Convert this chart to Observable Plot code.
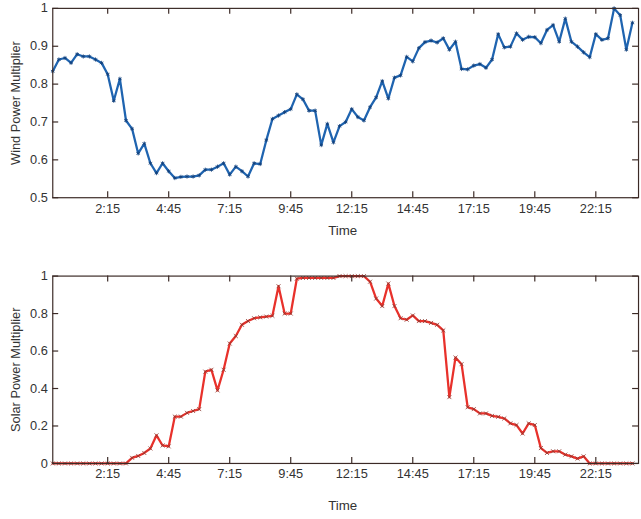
<!DOCTYPE html>
<html><head><meta charset="utf-8">
<script src="https://cdn.jsdelivr.net/npm/d3@7"></script>
<script src="https://cdn.jsdelivr.net/npm/@observablehq/plot@0.6"></script>
<style>
html,body{margin:0;padding:0;background:#fff;overflow:hidden;}
#wrap{width:641px;height:519px;overflow:hidden;position:relative;}
#wrap svg{display:block;}
</style></head><body><div id="wrap"></div>
<script>
// x tick labels (time of day)
const timeTickLabels = ["2:15","4:45","7:15","9:45","12:15","14:45","17:15","19:45","22:15"];
// wind power multiplier, 15-minute samples from 0:00
const windValues = [
0.834,0.865,0.869,0.856,0.879,0.873,0.873,0.865,0.856,0.826,
0.756,0.814,0.704,0.682,0.617,0.643,0.591,0.565,0.591,0.570,
0.552,0.555,0.556,0.556,0.559,0.574,0.574,0.582,0.591,0.561,
0.582,0.570,0.556,0.591,0.589,0.652,0.708,0.717,0.726,0.734,
0.773,0.760,0.730,0.730,0.639,0.695,0.646,0.689,0.700,0.734,
0.713,0.704,0.739,0.765,0.808,0.762,0.817,0.823,0.872,0.860,
0.895,0.911,0.915,0.910,0.921,0.891,0.912,0.840,0.839,0.849,
0.853,0.843,0.865,0.932,0.897,0.899,0.934,0.917,0.925,0.924,
0.908,0.943,0.956,0.912,0.973,0.912,0.899,0.884,0.871,0.932,
0.917,0.921,1.000,0.982,0.891,0.962];
// solar power multiplier, 15-minute samples from 0:00
const solarValues = [
0,0,0,0,0,0,0,0,0,0,
0,0,0,0.03,0.04,0.056,0.08,0.15,0.096,0.091,
0.25,0.25,0.27,0.28,0.29,0.49,0.50,0.39,0.50,0.64,
0.68,0.74,0.76,0.775,0.78,0.784,0.788,0.946,0.80,0.80,
0.986,0.99,0.99,0.99,0.99,0.99,0.99,1.0,1.0,1.0,
1.0,1.0,0.97,0.88,0.84,0.96,0.84,0.775,0.767,0.79,
0.76,0.76,0.75,0.74,0.71,0.354,0.565,0.53,0.30,0.29,
0.267,0.267,0.254,0.249,0.24,0.214,0.205,0.16,0.214,0.205,
0.082,0.056,0.065,0.065,0.047,0.038,0.026,0.038,0,0,
0,0,0,0,0,0];
const windYTicks = [0.5,0.6,0.7,0.8,0.9,1];
const solarYTicks = [0,0.2,0.4,0.6,0.8,1];

const hours = d3.range(windValues.length).map(i => i / 4);
const tickHours = timeTickLabels.map(s => { const [h, m] = s.split(":").map(Number); return h + m / 60; });
const tickLabelOf = new Map(tickHours.map((h, i) => [h, timeTickLabels[i]]));

const W = 650, ML = 53, MR = 3;
const frameColor = "#3b2a26";
const textColor = "#333";

function panel({values, color, markColor, symbol, yDomain, yTicks, yLabel, height, marginTop, marginBottom, timeDy}) {
  const data = values.map((v, i) => ({t: hours[i], v}));
  const innerH = height - marginTop - marginBottom;
  const innerW = W - ML - MR;
  const xDomain = [0, 24];
  const ty = (yDomain[1] - yDomain[0]) * 6 / innerH;
  const tx = (xDomain[1] - xDomain[0]) * 6 / innerW;
  return Plot.plot({
    width: W, height, marginLeft: ML, marginRight: MR, marginTop, marginBottom,
    style: {fontFamily: "'Liberation Sans', Arial, sans-serif", fontSize: "13px", color: textColor, background: "#fff"},
    x: {domain: xDomain},
    y: {domain: yDomain},
    marks: [
      Plot.line(data, {x: "t", y: "v", stroke: color, strokeWidth: 2.3, strokeLinejoin: "round"}),
      Plot.dot(data, {x: "t", y: "v", symbol, r: 2, stroke: markColor, strokeWidth: 0.8}),
      // inward ticks
      Plot.ruleX(tickHours, {x: d => d, y1: yDomain[0], y2: yDomain[0] + ty, stroke: frameColor, strokeWidth: 1.2}),
      Plot.ruleX(tickHours, {x: d => d, y1: yDomain[1], y2: yDomain[1] - ty, stroke: frameColor, strokeWidth: 1.2}),
      Plot.ruleY(yTicks, {y: d => d, x1: xDomain[0], x2: xDomain[0] + tx, stroke: frameColor, strokeWidth: 1.2}),
      Plot.ruleY(yTicks, {y: d => d, x1: xDomain[1], x2: xDomain[1] - tx, stroke: frameColor, strokeWidth: 1.2}),
      Plot.axisX(tickHours, {anchor: "bottom", tickSize: 0, tickPadding: 6, tickFormat: h => tickLabelOf.get(h),
        label: null, fontSize: 13}),
      Plot.axisY(yTicks, {anchor: "left", tickSize: 0, tickPadding: 5, tickFormat: d => String(d),
        label: null, fontSize: 13}),
      // axis titles
      Plot.text([yLabel], {text: d => d, frameAnchor: "left", dx: -37, rotate: -90, fontSize: 13,
        textAnchor: "middle", lineAnchor: "middle", fill: textColor}),
      Plot.text(["Time"], {text: d => d, frameAnchor: "bottom", dx: -3, dy: timeDy, fontSize: 13.5,
        textAnchor: "middle", lineAnchor: "middle", fill: textColor}),
      Plot.frame({stroke: frameColor, strokeWidth: 1.2})
    ]
  });
}

const wrap = document.getElementById("wrap");
wrap.appendChild(panel({values: windValues, color: "#1f64b0", markColor: "#123f78", symbol: "asterisk",
  yDomain: [0.5, 1], yTicks: windYTicks, yLabel: "Wind Power Multiplier", height: 250, marginTop: 8, marginBottom: 50, timeDy: 33}));
wrap.appendChild(panel({values: solarValues, color: "#e8312b", markColor: "#8a3a30", symbol: "times",
  yDomain: [0, 1], yTicks: solarYTicks, yLabel: "Solar Power Multiplier", height: 269, marginTop: 29, marginBottom: 50, timeDy: 43}));
</script></body></html>
